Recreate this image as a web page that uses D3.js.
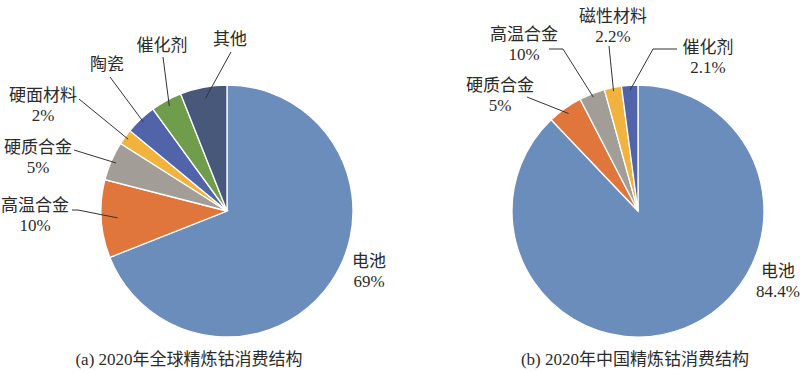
<!DOCTYPE html>
<html>
<head>
<meta charset="utf-8">
<script src="https://cdn.jsdelivr.net/npm/d3@7"></script>
<style>
  body { margin: 0; background: #fff; }
  text { font-family: "Liberation Serif", "Noto Sans CJK SC", serif; fill: #2b2b2b; }
</style>
</head>
<body>
<div id="chart"></div>
<script>
// (a) global
var globalCats = ["电池", "高温合金", "硬质合金", "硬面材料", "陶瓷", "催化剂", "其他"];
var globalVals = [69, 10, 5, 2, 4, 4, 6];
var globalPct = ["69%", "10%", "5%", "2%", "", "", ""];
var globalColors = ["#6b8dbb", "#e0763b", "#a29d96", "#f1b23e", "#5164a9", "#6f9d4c", "#47587a"];

// (b) China -- slice sizes as drawn, labels as printed
var chinaCats = ["电池", "硬质合金", "高温合金", "磁性材料", "催化剂"];
var chinaVals = [87.9, 4.5, 3.3, 2.2, 2.1];
var chinaPct = ["84.4%", "5%", "10%", "2.2%", "2.1%"];
var chinaColors = ["#6b8dbb", "#e0763b", "#a29d96", "#f1b23e", "#5164a9"];

var captions = ["(a) 2020年全球精炼钴消费结构", "(b) 2020年中国精炼钴消费结构"];

// label layout, relative to pie centre: text (x, baseline y), leader outer points, leader inner radius factor
var globalLabels = [
  {x: 142, y: 56},
  {x: -192, y: 0, pts: [[-155, -1], [-149, -1]], k: 0.87},
  {x: -189, y: -58, pts: [[-153, -61]], k: 0.96},
  {x: -184, y: -110, pts: [[-148, -112]], k: 0.97},
  {x: -120, y: -141, pts: [[-117, -134]], k: 0.97},
  {x: -65, y: -160, pts: [[-64, -154]], k: 0.95},
  {x: 3, y: -166, pts: [[4, -159]], k: 0.91}
];
var chinaLabels = [
  {x: 140, y: 66},
  {x: -138, y: -120, pts: [[-111, -114]], k: 0.95},
  {x: -114, y: -171, pts: [[-89, -162], [-75, -162]], k: 0.97},
  {x: -25, y: -189, pts: [[-29, -165]], k: 0.97},
  {x: 70, y: -158, pts: [[39, -162], [15, -162]], k: 0.96}
];

var width = 800, height = 372, r = 126;

var svg = d3.select("#chart").append("svg")
  .attr("width", width)
  .attr("height", height);

var pie = d3.pie().sort(null).value(function(d) { return d; });
var arc = d3.arc().innerRadius(0).outerRadius(r);

function drawPie(cx, cy, cats, vals, pcts, colors, labels, caption, capX) {
  var g = svg.append("g").attr("transform", "translate(" + cx + "," + cy + ")");
  var arcs = pie(vals);

  g.selectAll("path.slice")
    .data(arcs)
    .enter().append("path")
    .attr("class", "slice")
    .attr("d", arc)
    .attr("fill", function(d, i) { return colors[i]; })
    .attr("stroke", "#fff")
    .attr("stroke-width", 1.3);

  var line = d3.line();
  g.selectAll("path.leader")
    .data(arcs.filter(function(d, i) { return labels[i].pts; }))
    .enter().append("path")
    .attr("class", "leader")
    .attr("fill", "none")
    .attr("stroke", "#333")
    .attr("stroke-width", 1)
    .attr("d", function(d) {
      var lb = labels[d.index];
      var a = (d.startAngle + d.endAngle) / 2, rr = r * lb.k;
      var inner = [Math.sin(a) * rr, -Math.cos(a) * rr];
      return line(lb.pts.concat([inner]));
    });

  var t = g.selectAll("text.lbl")
    .data(arcs)
    .enter().append("text")
    .attr("class", "lbl")
    .attr("text-anchor", "middle")
    .style("font-size", "17px");
  t.append("tspan")
    .attr("x", function(d) { return labels[d.index].x; })
    .attr("y", function(d) { return labels[d.index].y; })
    .text(function(d) { return cats[d.index]; });
  t.append("tspan")
    .attr("x", function(d) { return labels[d.index].x; })
    .attr("y", function(d) { return labels[d.index].y + 20; })
    .text(function(d) { return pcts[d.index]; });

  svg.append("text")
    .attr("x", capX)
    .attr("y", 365)
    .attr("text-anchor", "middle")
    .style("font-size", "17px")
    .text(caption);
}

drawPie(227, 211, globalCats, globalVals, globalPct, globalColors, globalLabels, captions[0], 189);
drawPie(638, 211, chinaCats, chinaVals, chinaPct, chinaColors, chinaLabels, captions[1], 635);
</script>
</body>
</html>
